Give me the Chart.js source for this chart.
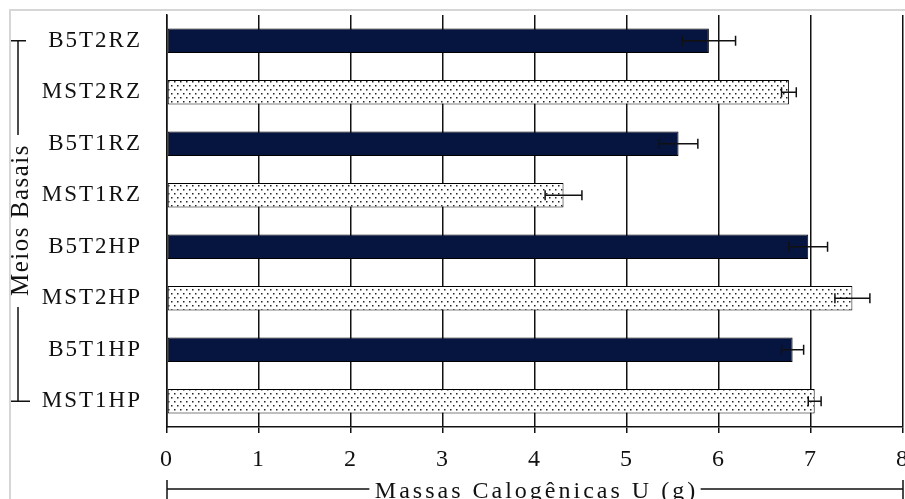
<!DOCTYPE html>
<html>
<head>
<meta charset="utf-8">
<script src="https://cdn.jsdelivr.net/npm/chart.js@4.4.1/dist/chart.umd.min.js"></script>
<style>
  html, body { margin: 0; padding: 0; background: #fff; }
</style>
</head>
<body>
<canvas id="massChart" width="905" height="499"></canvas>
<script>
// categories top to bottom, as in the figure
const labels = ['B5T2RZ', 'MST2RZ', 'B5T1RZ', 'MST1RZ', 'B5T2HP', 'MST2HP', 'B5T1HP', 'MST1HP'];
const massas = [5.89, 6.76, 5.56, 4.31, 6.97, 7.45, 6.80, 7.04];
const erros = [0.29, 0.08, 0.21, 0.20, 0.21, 0.19, 0.12, 0.07];
const meio = ['B5', 'MS', 'B5', 'MS', 'B5', 'MS', 'B5', 'MS'];
const xMin = 0;
const xMax = 8;
const yTitle = 'Meios Basais';
const xTitle = 'Massas Calogênicas U (g)';

const serif = "'Liberation Serif', 'Times New Roman', serif";

// dotted fill used by the MS bars
function dotPattern() {
  const c = document.createElement('canvas');
  c.width = 6;
  c.height = 8;
  const p = c.getContext('2d');
  p.fillStyle = '#fff';
  p.fillRect(0, 0, 6, 8);
  p.fillStyle = '#222';
  p.fillRect(0, 1, 1.5, 1.5);
  p.fillRect(3, 5, 1.5, 1.5);
  return document.getElementById('massChart').getContext('2d').createPattern(c, 'repeat');
}
const dots = dotPattern();
const fills = meio.map(m => m === 'B5' ? '#061540' : dots);

function noEdgePadding(scale) {
  scale.paddingTop = 0;
  scale.paddingBottom = 0;
  scale.paddingLeft = 0;
  scale.paddingRight = 0;
}

const framePlugin = {
  id: 'frame',
  beforeDraw(chart) {
    const ctx = chart.ctx;
    ctx.save();
    ctx.fillStyle = '#fff';
    ctx.fillRect(0, 0, chart.width, chart.height);
    ctx.strokeStyle = '#d6d6d6';
    ctx.lineWidth = 2;
    ctx.beginPath();
    ctx.moveTo(10, chart.height);
    ctx.lineTo(10, 10);
    ctx.lineTo(chart.width, 10);
    ctx.stroke();
    ctx.restore();
    // the figure's lettering is wide
    ctx.letterSpacing = '2px';
  }
};

const errorBarPlugin = {
  id: 'errorBars',
  afterDatasetsDraw(chart) {
    const ctx = chart.ctx;
    const x = chart.scales.x;
    const meta = chart.getDatasetMeta(0);
    ctx.save();
    ctx.strokeStyle = '#111';
    ctx.lineWidth = 1.5;
    meta.data.forEach((bar, i) => {
      const x0 = x.getPixelForValue(massas[i] - erros[i]);
      const x1 = x.getPixelForValue(massas[i] + erros[i]);
      const y = bar.y;
      ctx.beginPath();
      ctx.moveTo(x0, y);
      ctx.lineTo(x1, y);
      ctx.moveTo(x0, y - 5);
      ctx.lineTo(x0, y + 5);
      ctx.moveTo(x1, y - 5);
      ctx.lineTo(x1, y + 5);
      ctx.stroke();
    });
    ctx.restore();
  }
};

const titlePlugin = {
  id: 'bracketTitles',
  afterDraw(chart) {
    const ctx = chart.ctx;
    const area = chart.chartArea;
    const yScale = chart.scales.y;
    ctx.save();
    ctx.strokeStyle = '#111';
    ctx.fillStyle = '#111';
    ctx.lineWidth = 1.5;

    // x title with bracket lines
    ctx.font = '24px ' + serif;
    ctx.letterSpacing = '3px';
    const w = ctx.measureText(xTitle).width;
    const cx = (area.left + area.right) / 2;
    const ly = 489;
    ctx.textAlign = 'center';
    ctx.textBaseline = 'alphabetic';
    ctx.fillText(xTitle, cx + 1.5, 498);
    ctx.beginPath();
    ctx.moveTo(area.left, ly);
    ctx.lineTo(cx - w / 2 - 4, ly);
    ctx.moveTo(cx + w / 2 + 4, ly);
    ctx.lineTo(area.right, ly);
    ctx.moveTo(area.left, 480);
    ctx.lineTo(area.left, 499);
    ctx.moveTo(area.right, 480);
    ctx.lineTo(area.right, 499);
    ctx.stroke();

    // y title, rotated, with bracket lines
    const y0 = yScale.getPixelForValue(0);
    const y1 = yScale.getPixelForValue(labels.length - 1);
    const cy = (y0 + y1) / 2;
    ctx.font = '25px ' + serif;
    ctx.letterSpacing = '1.5px';
    const h = ctx.measureText(yTitle).width;
    const bx = 18;
    ctx.beginPath();
    ctx.moveTo(11, y0);
    ctx.lineTo(26, y0);
    ctx.moveTo(bx, y0);
    ctx.lineTo(bx, cy - h / 2 - 10);
    ctx.moveTo(bx, cy + h / 2 + 10);
    ctx.lineTo(bx, y1);
    ctx.moveTo(11, y1);
    ctx.lineTo(30, y1);
    ctx.stroke();

    ctx.beginPath();
    ctx.rect(11, 11, 40, chart.height);
    ctx.clip();
    ctx.translate(28, cy);
    ctx.rotate(-Math.PI / 2);
    ctx.textAlign = 'center';
    ctx.fillText(yTitle, 1, 0);
    ctx.restore();
  }
};

new Chart(document.getElementById('massChart'), {
  type: 'bar',
  data: {
    labels: labels,
    datasets: [{
      data: massas,
      backgroundColor: fills,
      borderColor: '#000',
      borderWidth: 1,
      borderSkipped: false,
      barPercentage: 1,
      categoryPercentage: 0.48
    }]
  },
  options: {
    indexAxis: 'y',
    responsive: false,
    animation: false,
    layout: { padding: { top: 15, right: 2, left: 0, bottom: 0 } },
    plugins: {
      legend: { display: false },
      tooltip: { enabled: false }
    },
    scales: {
      x: {
        min: xMin,
        max: xMax,
        afterFit(scale) { scale.height = 72; noEdgePadding(scale); },
        grid: { color: '#111', lineWidth: 1.5, tickLength: 6 },
        border: { display: true, color: '#111', width: 1.5 },
        ticks: {
          stepSize: 1,
          padding: 12,
          color: '#111',
          font: { family: serif, size: 24 }
        }
      },
      y: {
        afterFit(scale) { scale.width = 167; noEdgePadding(scale); },
        grid: { display: false, drawTicks: false },
        border: { display: true, color: '#111', width: 1.5 },
        ticks: {
          padding: 25,
          color: '#111',
          font: { family: serif, size: 23 }
        }
      }
    }
  },
  plugins: [framePlugin, errorBarPlugin, titlePlugin]
});
</script>
</body>
</html>
